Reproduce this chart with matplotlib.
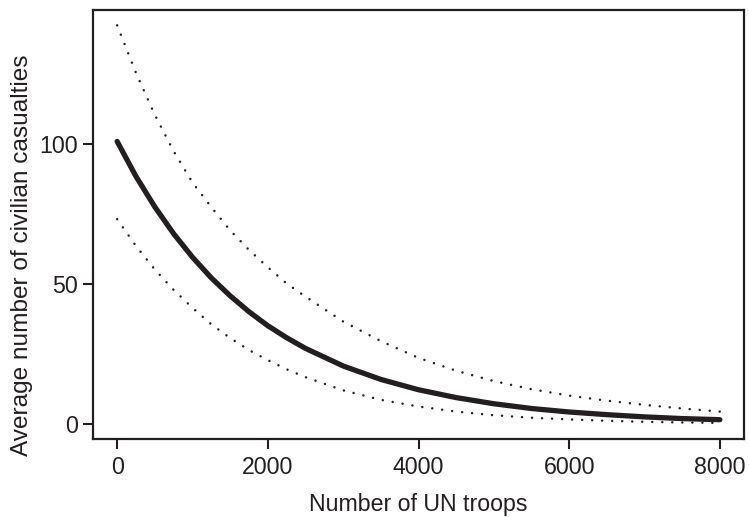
import matplotlib
matplotlib.use("Agg")
import matplotlib.pyplot as plt

# values
troops = [0, 250, 500, 750, 1000, 1250, 1500, 1750, 2000, 2250, 2500, 3000,
          3500, 4000, 4500, 5000, 5500, 6000, 6500, 7000, 7500, 8000]
mean_cas = [101.0, 88.5, 77.6, 68.0, 59.6, 52.2, 45.8, 40.1, 35.1, 30.8, 27.0,
            20.7, 15.9, 12.2, 9.4, 7.2, 5.5, 4.25, 3.3, 2.5, 1.9, 1.5]
upper_cas = [142.5, 125.5, 110.5, 97.5, 86.3, 77.5, 69.2, 62.2, 56.0, 50.2, 45.5,
             36.6, 29.6, 23.6, 19.0, 15.3, 12.4, 10.1, 8.3, 6.8, 5.5, 4.4]
lower_cas = [73.2, 63.6, 55.2, 47.9, 41.5, 35.6, 30.7, 26.4, 22.8, 19.5, 16.7,
             12.0, 8.6, 6.2, 4.4, 3.1, 2.2, 1.6, 1.1, 0.75, 0.5, 0.35]

xticks = [0, 2000, 4000, 6000, 8000]
yticks = [0, 50, 100]

ink = "#231f20"
fs = 16.7
plt.rcParams["font.family"] = ["Liberation Sans", "DejaVu Sans"]

fig = plt.figure(figsize=(7.49, 5.17), dpi=100)
ax = fig.add_axes([0.1242, 0.1509, 0.8691, 0.8298])

ax.plot(troops, mean_cas, color=ink, lw=3.8, solid_capstyle="round",
        solid_joinstyle="round")
for band in (upper_cas, lower_cas):
    ax.plot(troops, band, color=ink, lw=1.8, linestyle=(0, (0.01, 4.0)),
            dash_capstyle="round")

ax.set_xlim(-320, 8320)
ax.set_ylim(-5.4, 148)
ax.set_xticks(xticks)
ax.set_yticks(yticks)
ax.tick_params(direction="out", length=7, width=1.5, colors=ink,
               labelsize=fs, pad=4)
ax.tick_params(axis="x", pad=5)
for s in ax.spines.values():
    s.set_linewidth(1.6)
    s.set_color(ink)

ax.set_xlabel("Number of UN troops", fontsize=fs, color=ink, labelpad=10)
ax.set_ylabel("Average number of civilian casualties", fontsize=17.6,
              color=ink)
ax.yaxis.set_label_coords(-0.092, 0.429)

fig.savefig("out.png", dpi=100)
